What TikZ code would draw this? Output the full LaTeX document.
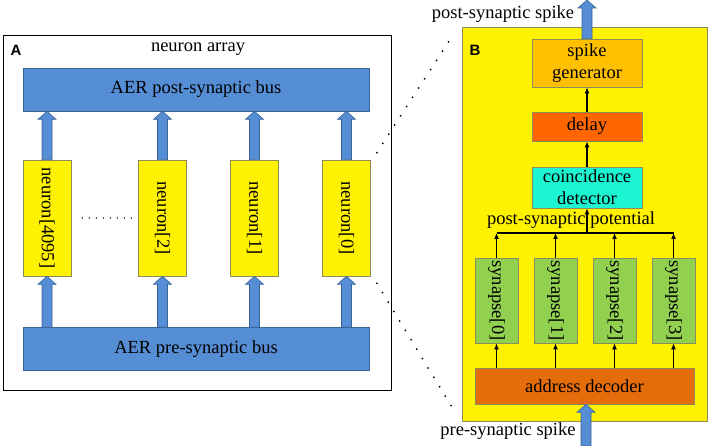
\documentclass[tikz,border=0pt]{standalone}
\usepackage{fontspec}
\setmainfont{Liberation Serif}
\setsansfont{Liberation Sans}
\newfontfamily\diagramfont{Liberation Serif}
\usepackage{graphicx}
\usetikzlibrary{arrows.meta,positioning,calc}

\definecolor{busblue}{HTML}{558ED5}
\definecolor{synapsegreen}{HTML}{92D050}
\definecolor{genorange}{HTML}{FFC000}
\definecolor{delayorange}{HTML}{FF6600}
\definecolor{decoderorange}{HTML}{E46C0A}
\definecolor{detectorcyan}{HTML}{1CF5D2}
\definecolor{edgegray}{HTML}{8C8C5A}

% block arrow pointing up, x taken from the first point
\newcommand{\bigarrow}[2]{%
  \path[draw=busblue!70!black, fill=busblue, line width=0.6pt]
    let \p1=(#1), \p2=(#2) in
    (\x1-5pt,\y1) -- (\x1-5pt,\y2-8pt) -- (\x1-9pt,\y2-8pt) -- (\x1,\y2)
    -- (\x1+9pt,\y2-8pt) -- (\x1+5pt,\y2-8pt) -- (\x1+5pt,\y1) -- cycle;}

\begin{document}
\begin{tikzpicture}[x=1pt, y=-1pt, >={Latex[length=6pt,width=5pt]}]
    \tikzset{box/.style= {draw=edgegray, rectangle
    , inner sep=0pt
    , line width=0.6pt
    , font=\diagramfont\fontsize{18.5}{22}\selectfont
    , align=center
      }
    , bus/.style= {box, fill=busblue, draw=busblue!70!black
    , minimum width=346pt, minimum height=43pt}
    , neuron/.style= {box, fill=yellow, minimum width=48pt, minimum height=116pt
    , node distance=92pt}
    , synapse/.style= {box, fill=synapsegreen, minimum width=43pt, minimum height=85pt
    , node distance=59pt}
    , stage/.style= {box, minimum width=110pt}
    , label/.style= {font=\diagramfont\fontsize{18.5}{22}\selectfont}
    , panelname/.style= {font=\sffamily\bfseries\fontsize{15}{18}\selectfont}
    , zoomline/.style= {line width=2pt, line cap=round, dash pattern=on 0pt off 11pt}
    }
\useasboundingbox (0,0) rectangle (709,446);

% panel A
\node [draw, line width=1.2pt, minimum width=388pt, minimum height=355pt
  , anchor=north west] (panelA) at (3,35) {};
\node [panelname] (nameA) at (16,50) {A};
\node [label] (arraytitle) at (198,49) {neuron array};

\node [bus] (postbus) at (196,89.5) {AER post-synaptic bus};
\node [bus] (prebus) at (196,349) {AER pre-synaptic bus};

\node [neuron] (n4095) at (47,218) {\rotatebox{-90}{neuron[4095]}};
\node [neuron] (n2) at (162.5,218) {\rotatebox{-90}{neuron[2]}};
\node [neuron, right of=n2] (n1) {\rotatebox{-90}{neuron[1]}};
\node [neuron, right of=n1] (n0) {\rotatebox{-90}{neuron[0]}};

\foreach \cell in {n4095,n2,n1,n0}{
  \bigarrow{\cell.south |- prebus.north}{\cell.south}
  \bigarrow{\cell.north}{\cell.north |- postbus.south}
}
\draw [line width=1.6pt, line cap=round, dash pattern=on 0pt off 7pt]
  ([xshift=11pt]n4095.east) -- ([xshift=-6pt]n2.west);

% panel B
\node [draw=edgegray, fill=yellow, line width=0.8pt, minimum width=245pt
  , minimum height=394pt, anchor=north west] (panelB) at (462,27) {};
\node [panelname] (nameB) at (475,50) {B};

\node [stage, fill=genorange, minimum height=48pt] (spikegen) at (587,63)
  {spike\\generator};
\node [stage, fill=delayorange, minimum height=29pt] (delay) at (587,126.5) {delay};
\node [stage, fill=detectorcyan, minimum height=41pt] (detector) at (587,187.5)
  {coincidence\\detector};
\node [label] (potential) at (571,220) {post-synaptic potential};
\coordinate (junction) at (587,233);

\node [synapse] (s0) at (496.5,300.5) {\rotatebox{-90}{synapse[0]}};
\node [synapse, right of=s0] (s1) {\rotatebox{-90}{synapse[1]}};
\node [synapse, right of=s1] (s2) {\rotatebox{-90}{synapse[2]}};
\node [synapse, right of=s2] (s3) {\rotatebox{-90}{synapse[3]}};

\node [box, fill=decoderorange, minimum width=219pt, minimum height=36pt]
  (decoder) at (584.5,386) {address decoder};

 \path[draw, ->, line width=1.2pt]
  (detector) -- (delay);
 \path[draw, ->, line width=1.2pt]
  (delay) -- (spikegen);
 \path[draw, ->, line width=1.2pt]
  (junction) -- (detector);
 \path[draw, line width=1.2pt]
  (s0.north |- junction) -- (s3.north |- junction);
\foreach \s in {s0,s1,s2,s3}{
 \path[draw, ->, line width=1.2pt] (\s.north) -- (\s.north |- junction);
 \path[draw, ->, line width=1.2pt] (\s.south |- decoder.north) -- (\s.south);
}

\coordinate (prein) at (586,446);
\coordinate (postout) at (587,0);
\bigarrow{prein}{prein |- decoder.south}
\bigarrow{spikegen.north}{postout}
\node [label] (prelabel) at (508,431) {pre-synaptic spike};
\node [label] (postlabel) at (503,14) {post-synaptic spike};

% zoom lines
\draw [zoomline] ([shift={(6,-7)}]n0.north east) -- ([shift={(-9,8)}]panelB.north west);
\draw [zoomline] ([shift={(6,7)}]n0.south east) -- ([shift={(-6,-8)}]panelB.south west);
\end{tikzpicture}
\end{document}
